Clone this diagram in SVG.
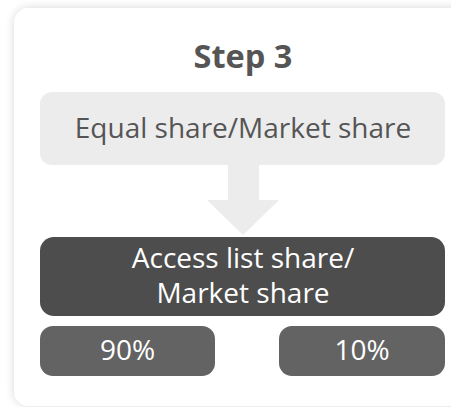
<svg xmlns="http://www.w3.org/2000/svg" width="451" height="407" viewBox="0 0 451 407">
<defs>
<filter id="sh" x="-10%" y="-10%" width="120%" height="120%">
<feGaussianBlur in="SourceAlpha" stdDeviation="5"/>
<feComponentTransfer><feFuncA type="linear" slope="0.16"/></feComponentTransfer>
<feMerge><feMergeNode/><feMergeNode in="SourceGraphic"/></feMerge>
</filter>
</defs>
<style>
text{font-family:"Open Sans","Noto Sans","Liberation Sans",sans-serif;text-anchor:middle}
.t{font-size:28px;fill:#555}
.w{font-size:28px;fill:#fff}
.h{font-size:32.5px;font-weight:bold;fill:#555}
</style>
<rect width="451" height="407" fill="#fff"/>
<rect x="14" y="8" width="470" height="398" rx="15" fill="#fff" filter="url(#sh)"/>
<text class="h" x="243" y="68">Step 3</text>
<g id="n1">
<rect x="40" y="92" width="405" height="73" rx="12" fill="#ececec"/>
<text class="t" x="243" y="138">Equal share/Market share</text>
</g>
<g id="connectors">
<polygon points="228,165 259,165 259,200 279,200 243,235 207,200 228,200" fill="#ececec"/>
</g>
<g id="n2">
<rect x="40" y="237" width="405" height="79" rx="14" fill="#4d4d4d"/>
<text class="w" x="243" y="268">Access list share/</text>
<text class="w" x="243" y="303">Market share</text>
</g>
<g id="n3">
<rect x="40" y="326" width="175" height="50" rx="13" fill="#636363"/>
<text class="w" x="127.5" y="360">90%</text>
</g>
<g id="n4">
<rect x="279" y="326" width="166" height="50" rx="13" fill="#636363"/>
<text class="w" x="362" y="360">10%</text>
</g>
</svg>
